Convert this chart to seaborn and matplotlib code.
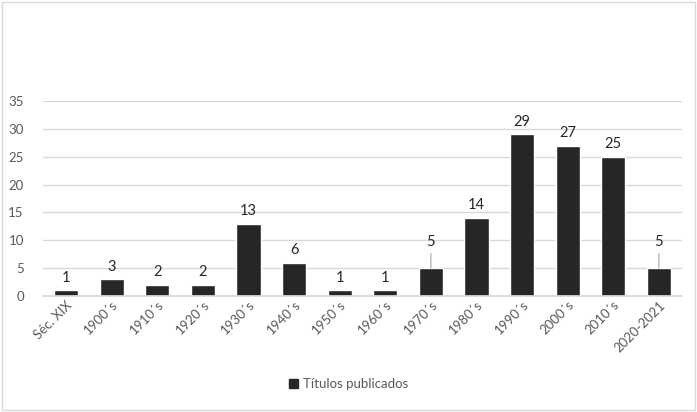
import matplotlib.pyplot as plt
import pandas as pd
import seaborn as sns

decades = ["Séc. XIX", "1900´s", "1910´s", "1920´s", "1930´s", "1940´s", "1950´s",
           "1960´s", "1970´s", "1980´s", "1990´s", "2000´s", "2010´s", "2020-2021"]
titles = [1, 3, 2, 2, 13, 6, 1, 1, 5, 14, 29, 27, 25, 5]
series_name = "Títulos publicados"

df = pd.DataFrame({"decade": decades, "titles": titles, "serie": series_name})

sns.set_theme(style="white")
plt.rcParams['font.family'] = ['Lato', 'DejaVu Sans']

fig = plt.figure(figsize=(6.97, 4.12), dpi=100)
ax = fig.add_axes([0.062, 0.2816, 0.916, 0.4733])
sns.barplot(data=df, x="decade", y="titles", hue="serie", palette=["#262626"],
            width=0.53, ax=ax, legend=False)

ax.set_ylim(0, 35)
ax.set_yticks(range(0, 36, 5))
ax.yaxis.grid(True, color="#d9d9d9", linewidth=1)
ax.set_axisbelow(True)
for s in ["top", "right", "left"]:
    ax.spines[s].set_visible(False)
ax.spines["bottom"].set_color("#d9d9d9")
ax.set_xlabel("")
ax.set_ylabel("")
ax.tick_params(axis="y", labelsize=9.5, colors="#595959", length=0, pad=14)
ax.tick_params(axis="x", labelsize=9.5, colors="#595959", length=0, pad=2)
plt.setp(ax.get_xticklabels(), rotation=45, ha="right", rotation_mode="anchor")

# data labels (the two "5" labels sit higher with a small leader line)
for i, v in enumerate(titles):
    if decades[i] in ("1970´s", "2020-2021"):
        ax.annotate(str(v), xy=(i, v), xytext=(0, 14), textcoords="offset points",
                    ha="center", va="bottom", fontsize=10.5, color="#262626",
                    arrowprops=dict(arrowstyle="-", color="#a6a6a6", lw=0.8,
                                    shrinkA=1, shrinkB=0))
    else:
        ax.annotate(str(v), xy=(i, v), xytext=(0, 4), textcoords="offset points",
                    ha="center", va="bottom", fontsize=10.5, color="#262626")

handle = plt.Rectangle((0, 0), 1, 1, color="#262626")
fig.legend([handle], [series_name], loc="center", bbox_to_anchor=(0.5, 0.068),
           frameon=False, fontsize=9.5, handlelength=0.7, handleheight=0.7,
           handletextpad=0.4, labelcolor="#595959")

fig.patches.append(plt.Rectangle((0.003, 0.004), 0.994, 0.992, transform=fig.transFigure,
                                 fill=False, edgecolor="#d9d9d9", linewidth=1))

fig.savefig("out.png", dpi=100)
